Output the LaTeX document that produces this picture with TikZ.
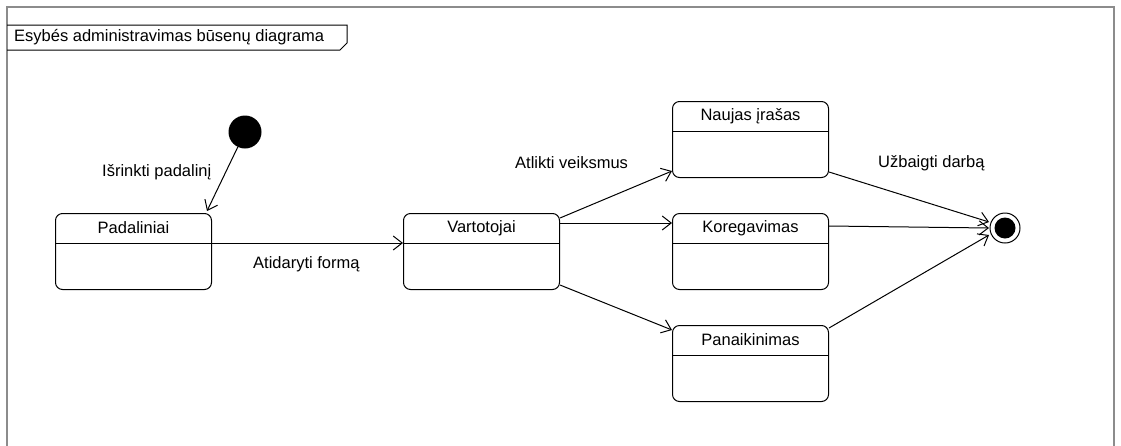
\documentclass[tikz,border=0pt]{standalone}
\usepackage{fontspec}
\setmainfont{Liberation Sans}
\usetikzlibrary{arrows.meta,calc}

\tikzset{
  statebox/.style={draw, line width=1pt, rounded corners=7pt, minimum width=156pt,
    minimum height=76pt, inner sep=0pt, anchor=north west},
  stname/.style={anchor=center, inner sep=0pt, font=\fontsize{16.5}{19}\selectfont},
  lbl/.style={anchor=west, inner sep=0pt, font=\fontsize{16.5}{19}\selectfont},
  trans/.style={line width=1pt, -{Straight Barb[length=9pt,width=14pt,line width=1pt]}},
  frameline/.style={draw=black!45, line width=1.2pt},
}

% a state box with a name compartment 30pt high (y grows downwards)
\newcommand{\umlstate}[4]{% name, x, y, text
  \node[statebox] (#1) at (#2,#3) {};
  \draw[line width=1pt] ($(#1.north west)+(0,30)$) -- ($(#1.north east)+(0,30)$);
  \node[stname] (#1-t) at ($(#1.north)+(0,15)$) {#4};
}

\begin{document}
\begin{tikzpicture}[x=1pt,y=-1pt]
\useasboundingbox[fill=white] (0,0) rectangle (1121,445);

% diagram frame and its name tag
\draw[frameline] (7,460) -- (7,7) -- (1114,7) -- (1114,460);
\draw[line width=1pt] (7,25) -- (347,25) -- (347,43) -- (340,50) -- (7,50);
\node[lbl] (title) at (14,37.5) {Esybés administravimas būsenų diagrama};

% pseudo states
\fill (245,132) circle (16.5) coordinate (init);
\node[circle, fill=black, minimum size=21pt, inner sep=0pt] (fin) at (1005,228) {};
\draw[line width=1pt] (fin.center) circle (15);
\node[circle, minimum size=30pt, inner sep=0pt] (finb) at (1005,228) {};

% states
\umlstate{pad}{55}{213}{Padaliniai}
\umlstate{var}{403}{213}{Vartotojai}
\umlstate{nau}{672}{101}{Naujas įrašas}
\umlstate{kor}{672}{213}{Koregavimas}
\umlstate{pan}{672}{325}{Panaikinimas}

% transitions
\coordinate (padin) at ($(pad.north east)+(-5,-2)$);
\draw[trans] ($(init)!16.5pt!(padin)$) -- (padin);
\draw[trans] ($(pad.north east)+(0,30)$) -- ($(var.north west)+(0,30)$);

\draw[trans] ($(var.north east)+(0,5)$) -- ($(nau.south west)+(0,-7)$);
\draw[trans] ($(var.north east)+(0,10)$) -- ($(kor.north west)+(0,10)$);
\draw[trans] ($(var.south east)+(0,-5)$) -- ($(pan.north west)+(0,5)$);

\draw[trans] ($(nau.south east)+(0,-6)$) -- ($(finb.center)+(-16,-6)$);
\draw[trans] ($(kor.north east)+(0,13)$) -- ($(finb.center)+(-16,0)$);
\draw[trans] ($(pan.north east)+(0,3)$) -- ($(finb.center)+(-16,7)$);

% transition labels
\node[lbl] (l1) at (102,172) {Išrinkti padalinį};
\node[lbl] (l2) at (253,264) {Atidaryti formą};
\node[lbl] (l3) at (515,163) {Atlikti veiksmus};
\node[lbl] (l4) at (878,163) {Užbaigti darbą};
\end{tikzpicture}
\end{document}
